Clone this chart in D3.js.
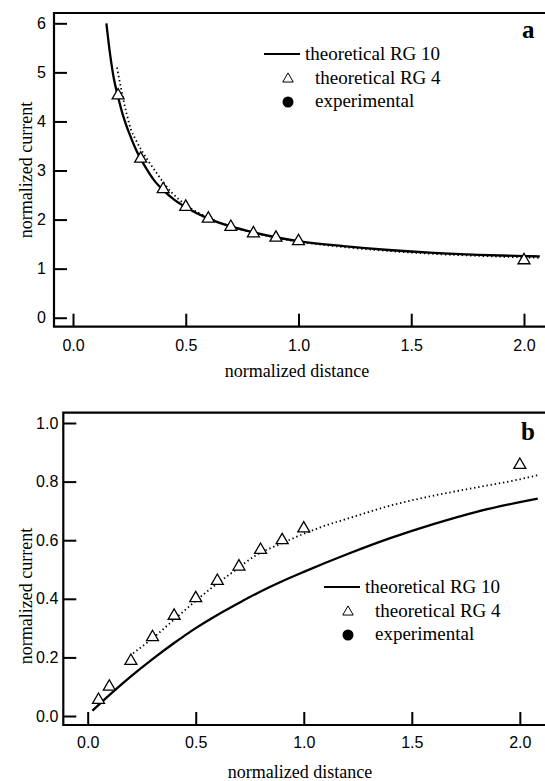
<!DOCTYPE html>
<html>
<head>
<meta charset="utf-8">
<script src="https://cdn.jsdelivr.net/npm/d3@7"></script>
<style>
  body { margin: 0; background: #fff; }
  svg { display: block; }
  .tick text { font-family: "Liberation Sans", Arial, sans-serif; font-size: 16px; fill: #000; }
  .tick line { stroke: #000; stroke-width: 2; }
</style>
</head>
<body>
<svg id="chart"></svg>
<script>
// ---- data ----
// panel a
var aRG10X = [0.148, 0.165, 0.18, 0.2, 0.22, 0.25, 0.28, 0.32, 0.36, 0.4, 0.45, 0.5, 0.6, 0.7, 0.8, 0.9, 1.0, 1.2, 1.4, 1.6, 1.8, 2.0, 2.07]
var aRG10Y = [6.0, 5.35, 4.9, 4.5, 4.15, 3.75, 3.42, 3.08, 2.8, 2.6, 2.4, 2.25, 2.02, 1.86, 1.74, 1.64, 1.56, 1.46, 1.38, 1.32, 1.28, 1.255, 1.25]
var aExpX = [0.195, 0.237, 0.256, 0.278, 0.333, 0.377, 0.4, 0.436, 0.5, 0.6, 0.7, 0.8, 0.9, 1.0, 1.2, 1.4, 1.6, 1.8, 2.0, 2.07]
var aExpY = [5.1, 4.17, 3.85, 3.63, 3.2, 2.91, 2.76, 2.56, 2.3, 2.04, 1.86, 1.73, 1.63, 1.55, 1.44, 1.36, 1.3, 1.26, 1.23, 1.22]
var aRG4X = [0.2, 0.3, 0.4, 0.5, 0.6, 0.7, 0.8, 0.9, 1.0, 2.0]
var aRG4Y = [4.53, 3.24, 2.62, 2.26, 2.02, 1.85, 1.72, 1.63, 1.56, 1.17]
var aXTicks = [0.0, 0.5, 1.0, 1.5, 2.0]
var aYTicks = [0, 1, 2, 3, 4, 5, 6]

// panel b
var bRG10X = [0.022, 0.1, 0.2, 0.3, 0.4, 0.5, 0.6, 0.7, 0.8, 0.9, 1.0, 1.2, 1.4, 1.6, 1.8, 2.0, 2.083]
var bRG10Y = [0.018, 0.071, 0.135, 0.194, 0.249, 0.3, 0.345, 0.386, 0.425, 0.46, 0.492, 0.552, 0.607, 0.655, 0.697, 0.73, 0.742]
var bExpX = [0.21, 0.3, 0.38, 0.487, 0.58, 0.673, 0.78, 0.9, 1.0, 1.1, 1.2, 1.4, 1.6, 1.8, 2.0, 2.083]
var bExpY = [0.214, 0.265, 0.316, 0.385, 0.441, 0.492, 0.549, 0.59, 0.622, 0.65, 0.673, 0.718, 0.752, 0.78, 0.808, 0.822]
var bRG4X = [0.05, 0.1, 0.2, 0.3, 0.4, 0.5, 0.6, 0.7, 0.8, 0.9, 1.0, 2.0]
var bRG4Y = [0.055, 0.1, 0.188, 0.269, 0.342, 0.402, 0.461, 0.51, 0.567, 0.60, 0.64, 0.857]
var bXTicks = [0.0, 0.5, 1.0, 1.5, 2.0]
var bYTicks = [0.0, 0.2, 0.4, 0.6, 0.8, 1.0]

var legendNames = ["theoretical RG 10", "theoretical RG 4", "experimental"]

var serif = "'Liberation Serif', 'DejaVu Serif', serif"

var svg = d3.select("#chart").attr("width", 545).attr("height", 781)

var zip = function(xs, ys) { return xs.map(function(x, i) { return [x, ys[i]] }) }

//serif text helper
var serifText = function(sel, size, txt)
{
    return sel.append("text")
              .style("font-family", serif)
              .style("font-size", size + "px")
              .attr("fill", "#000")
              .text(txt)
}

//draws one panel; box = frame in pixels, opts = layout bits
var drawPanel = function(box, xDomain, yDomain, xTicks, yTicks, yFmt,
                         rg10, exp, rg4, opts)
{
    var xScale = d3.scaleLinear().domain(xDomain).range([box.left, box.right])
    var yScale = d3.scaleLinear().domain(yDomain).range([box.bottom, box.top])

    var g = svg.append("g")

    //frame (left, top, bottom; right side runs off the page)
    g.append("path")
     .attr("d", "M" + box.right + "," + box.top + "H" + box.left +
                "V" + box.bottom + "H" + box.right)
     .attr("fill", "none").attr("stroke", "#000").attr("stroke-width", 2.2)

    var xAxis = d3.axisBottom(xScale).tickValues(xTicks)
                  .tickFormat(d3.format(".1f")).tickSize(-13).tickPadding(opts.xPad)
    g.append("g").attr("transform", "translate(0," + box.bottom + ")")
     .call(xAxis).call(function(s) { s.select(".domain").remove() })

    var yAxis = d3.axisLeft(yScale).tickValues(yTicks)
                  .tickFormat(yFmt).tickSize(-13).tickPadding(opts.yPad)
    g.append("g").attr("transform", "translate(" + box.left + ",0)")
     .call(yAxis).call(function(s) { s.select(".domain").remove() })

    var line = d3.line()
        .x(function(d) { return xScale(d[0]) })
        .y(function(d) { return yScale(d[1]) })
        .curve(d3.curveMonotoneX)

    //experimental, dotted
    g.append("path").datum(exp).attr("d", line)
     .attr("fill", "none").attr("stroke", "#000")
     .attr("stroke-width", 1.8).attr("stroke-dasharray", "1.4,2.8")

    //theoretical RG 10
    g.append("path").datum(rg10).attr("d", line)
     .attr("fill", "none").attr("stroke", "#000").attr("stroke-width", 2.3)

    //theoretical RG 4
    var tri = d3.symbol().type(d3.symbolTriangle).size(62)
    g.selectAll(".tri").data(rg4).enter().append("path")
     .attr("class", "tri")
     .attr("d", tri)
     .attr("transform", function(d) { return "translate(" + xScale(d[0]) + "," + yScale(d[1]) + ")" })
     .attr("fill", "#fff").attr("stroke", "#000").attr("stroke-width", 1.3)

    //axis titles
    serifText(g, 18, "normalized distance")
     .attr("text-anchor", "middle")
     .attr("x", opts.xTitle[0]).attr("y", opts.xTitle[1])
    serifText(g.append("g")
                .attr("transform", "translate(" + opts.yTitle[0] + "," + opts.yTitle[1] + ")"),
              18, "normalized current")
     .attr("text-anchor", "middle")
     .attr("transform", "rotate(-90)")

    //panel letter
    serifText(g, 25, opts.letter[2])
     .style("font-weight", "bold")
     .attr("x", opts.letter[0]).attr("y", opts.letter[1])

    //legend
    var lg = g.append("g").attr("transform", "translate(" + opts.legend[0] + "," + opts.legend[1] + ")")
    lg.append("line").attr("x1", -24).attr("x2", 12).attr("y1", 0).attr("y2", 0)
      .attr("stroke", "#000").attr("stroke-width", 2)
    serifText(lg, 19, legendNames[0]).attr("x", 17).attr("y", 6)
    lg.append("path").attr("d", d3.symbol().type(d3.symbolTriangle).size(48))
      .attr("transform", "translate(0,25)")
      .attr("fill", "#fff").attr("stroke", "#000").attr("stroke-width", 1)
    serifText(lg, 19, legendNames[1]).attr("x", 27).attr("y", 30)
    lg.append("circle").attr("cx", 0).attr("cy", 48).attr("r", 5.5).attr("fill", "#000")
    serifText(lg, 19, legendNames[2]).attr("x", 27).attr("y", 53)
}

drawPanel({left: 54, right: 546, top: 13, bottom: 326.7},
          [-0.0843, 2.0976], [-0.183, 6.21], aXTicks, aYTicks, d3.format("d"),
          zip(aRG10X, aRG10Y), zip(aExpX, aExpY), zip(aRG4X, aRG4Y),
          {xPad: 12.5, yPad: 8, xTitle: [297, 377], yTitle: [32, 170],
           letter: [522, 38, "a"], legend: [288, 54]})

drawPanel({left: 63.3, right: 546, top: 412.7, bottom: 725},
          [-0.1129, 2.1211], [-0.0307, 1.0352], bXTicks, bYTicks, d3.format(".1f"),
          zip(bRG10X, bRG10Y), zip(bExpX, bExpY), zip(bRG4X, bRG4Y),
          {xPad: 12, yPad: 5, xTitle: [300, 778], yTitle: [32, 596],
           letter: [521, 440, "b"], legend: [348, 587]})
</script>
</body>
</html>
